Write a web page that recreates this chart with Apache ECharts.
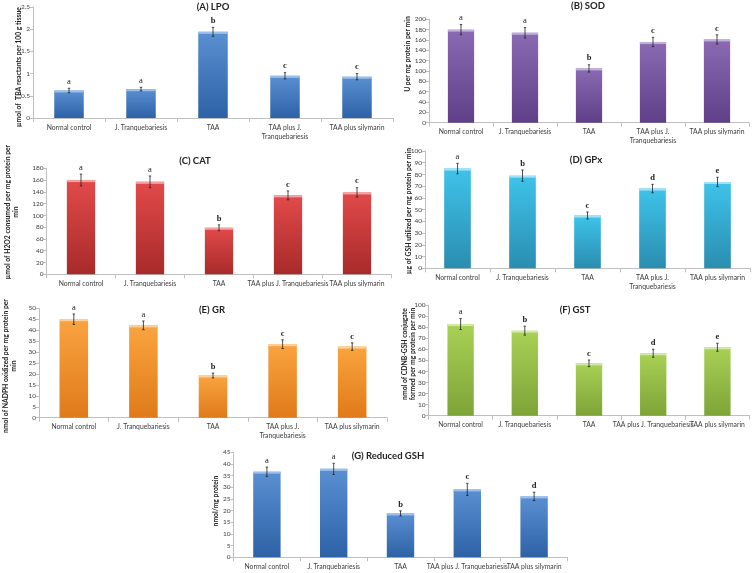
<!DOCTYPE html>
<html>
<head>
<meta charset="utf-8">
<script src="https://cdn.jsdelivr.net/npm/echarts@6/dist/echarts.min.js"></script>
<style>html,body{margin:0;padding:0;background:#fff}#c{width:756px;height:573px}</style>
</head>
<body>
<div id="c"></div>
<script>
// ---- data ----
const catsWrap = ['Normal control', 'J. Tranquebariesis', 'TAA', 'TAA plus J.\nTranquebariesis', 'TAA plus silymarin'];
const catsFlat = ['Normal control', 'J. Tranquebariesis', 'TAA', 'TAA plus J. Tranquebariesis', 'TAA plus silymarin'];

const lpoVals = [0.62, 0.65, 1.94, 0.95, 0.93];
const lpoErr  = [0.05, 0.04, 0.10, 0.07, 0.07];
const lpoSig  = ['a', 'a', 'b', 'c', 'c'];

const sodVals = [180, 174, 105, 156, 161];
const sodErr  = [10, 10, 7, 9, 9];
const sodSig  = ['a', 'a', 'b', 'c', 'c'];

const catVals = [160, 157, 79, 134, 139];
const catErr  = [10, 10, 5, 7.5, 8];
const catSig  = ['a', 'a', 'b', 'c', 'c'];

const gpxVals = [85, 79, 45, 68, 73.6];
const gpxErr  = [4.5, 4.8, 3, 3.6, 4];
const gpxSig  = ['a', 'b', 'c', 'd', 'e'];

const grVals = [45, 42.2, 19.3, 33.6, 32.5];
const grErr  = [2.4, 2, 1.1, 2, 1.7];
const grSig  = ['a', 'a', 'b', 'c', 'c'];

const gstVals = [82.8, 76.8, 47.3, 56.4, 61.8];
const gstErr  = [5, 4, 3, 3.6, 3.6];
const gstSig  = ['a', 'b', 'c', 'd', 'e'];

const gshVals = [36.7, 37.9, 18.8, 29.1, 26.1];
const gshErr  = [2, 2.4, 1.1, 2.6, 1.8];
const gshSig  = ['a', 'a', 'b', 'c', 'd'];

const yMax  = [2.5, 200, 180, 100, 50, 100, 45];
const yStep = [0.5, 20, 20, 10, 5, 10, 5];

const titles = ['(A) LPO', '(B) SOD', '(C) CAT', '(D) GPx', '(E) GR', '(F) GST', '(G) Reduced GSH'];
const yNames = [
  'µmol of  TBA reactants per 100 g tissue',
  'U per mg protein per min',
  'µmol of H2O2 consumed per mg protein per\nmin',
  'µg of GSH utilized per mg protein per min',
  'nmol of NADPH oxidized per mg protein per\nmin',
  'nmol of CDNB-GSH conjugate\nformed per mg protein per min',
  'nmol/mg protein'
];

// ---- layout / style ----
const FONT = 'Lato';
const panels = [
  {x: 33,    y: 7,     w: 360, h: 111,   cats: catsWrap, vals: lpoVals, err: lpoErr, sig: lpoSig,
   c: ['#5a90d2', '#2d62a6', '#9cc0ea'], tx: 213, ty: 7,   nx: 19,  ny: 67},
  {x: 429,   y: 19.3,  w: 320, h: 103.4, cats: catsWrap, vals: sodVals, err: sodErr, sig: sodSig,
   c: ['#8a6bb3', '#5e3f88', '#c2b0dc'], tx: 588, ty: 6,   nx: 408, ny: 54},
  {x: 46.5,  y: 168.3, w: 345, h: 106,   cats: catsFlat, vals: catVals, err: catErr, sig: catSig,
   c: ['#e24a4a', '#a82a2a', '#f3a3a3'], tx: 195, ty: 161, nx: 12,  ny: 212},
  {x: 425,   y: 151,   w: 325, h: 117.3, cats: catsWrap, vals: gpxVals, err: gpxErr, sig: gpxSig,
   c: ['#3fc3ea', '#2a8db0', '#a6e2f5'], tx: 586, ty: 160, nx: 409, ny: 211},
  {x: 39,    y: 308.3, w: 348, h: 109.4, cats: catsWrap, vals: grVals,  err: grErr,  sig: grSig,
   c: ['#f9a440', '#e07a1a', '#fcd29c'], tx: 212, ty: 310, nx: 10,  ny: 366},
  {x: 428.5, y: 305,   w: 321, h: 110.7, cats: catsFlat, vals: gstVals, err: gstErr, sig: gstSig,
   c: ['#a9d155', '#7da437', '#d5eaa8'], tx: 575, ty: 310, nx: 409, ny: 354},
  {x: 233.5, y: 452.3, w: 334, h: 105,   cats: catsFlat, vals: gshVals, err: gshErr, sig: gshSig,
   c: ['#5a90d2', '#2d62a6', '#9cc0ea'], tx: 388, ty: 456, nx: 216, ny: 501}
];

const grid = [], xAxis = [], yAxis = [], series = [], graphic = [];

panels.forEach((p, k) => {
  grid.push({left: p.x, top: p.y, width: p.w, height: p.h, containLabel: false});
  xAxis.push({
    type: 'category', gridIndex: k, data: p.cats,
    axisLine: {lineStyle: {color: '#bfbfbf', width: 1}},
    axisTick: {show: true, length: 4, lineStyle: {color: '#bfbfbf'}},
    axisLabel: {interval: 0, fontSize: 6.8, color: '#404040', fontFamily: FONT, margin: 5, lineHeight: 9}
  });
  yAxis.push({
    type: 'value', gridIndex: k, min: 0, max: yMax[k], interval: yStep[k],
    splitLine: {show: false},
    axisLine: {show: true, lineStyle: {color: '#bfbfbf', width: 1}},
    axisTick: {show: true, length: 3, lineStyle: {color: '#bfbfbf'}},
    axisLabel: {fontSize: 6.5, color: '#404040', fontFamily: FONT, margin: 3}
  });
  series.push({
    type: 'bar', xAxisIndex: k, yAxisIndex: k, data: p.vals, barWidth: '41%',
    silent: true,
    itemStyle: {color: new echarts.graphic.LinearGradient(0, 0, 0, 1, [
      {offset: 0, color: p.c[0]}, {offset: 1, color: p.c[1]}])}
  });
  const sig = p.sig, hi = p.c[2];
  series.push({
    type: 'custom', xAxisIndex: k, yAxisIndex: k, z: 5, silent: true,
    data: p.vals.map((v, i) => [i, v, p.err[i]]),
    encode: {x: 0, y: 1},
    renderItem: function (params, api) {
      const i = api.value(0), v = api.value(1), e = api.value(2);
      const top = api.coord([i, v + e]);
      const bot = api.coord([i, v - e]);
      const b = api.coord([i, v]);
      const bw = api.size([1, 0])[0] * 0.41;
      const cap = 1.2;
      return {type: 'group', children: [
        {type: 'rect', shape: {x: b[0] - bw / 2, y: b[1], width: bw, height: 2}, style: {fill: hi}},
        {type: 'line', shape: {x1: top[0], y1: top[1], x2: bot[0], y2: bot[1]}, style: {stroke: '#222', lineWidth: 0.8}},
        {type: 'line', shape: {x1: top[0] - cap, y1: top[1], x2: top[0] + cap, y2: top[1]}, style: {stroke: '#222', lineWidth: 0.8}},
        {type: 'line', shape: {x1: bot[0] - cap, y1: bot[1], x2: bot[0] + cap, y2: bot[1]}, style: {stroke: '#222', lineWidth: 0.8}},
        {type: 'text', x: top[0], y: top[1] - 2, style: {text: sig[params.dataIndex], fill: '#222',
          font: (sig[params.dataIndex] === 'a' ? '' : 'bold ') + '8.5px "Liberation Serif"',
          align: 'center', verticalAlign: 'bottom'}}
      ]};
    }
  });
  graphic.push({type: 'text', x: p.tx, y: p.ty, style: {text: titles[k], fill: '#222',
    font: 'bold 9.5px ' + FONT, align: 'center', verticalAlign: 'middle'}});
  graphic.push({type: 'text', x: p.nx, y: p.ny, rotation: Math.PI / 2, style: {text: yNames[k], fill: '#222',
    font: 'bold 6.8px ' + FONT, align: 'center', verticalAlign: 'middle', lineHeight: 7.5}});
});

const chart = echarts.init(document.getElementById('c'), null, {renderer: 'canvas'});
chart.setOption({animation: false, backgroundColor: '#fff', grid, xAxis, yAxis, series, graphic});
</script>
</body>
</html>
